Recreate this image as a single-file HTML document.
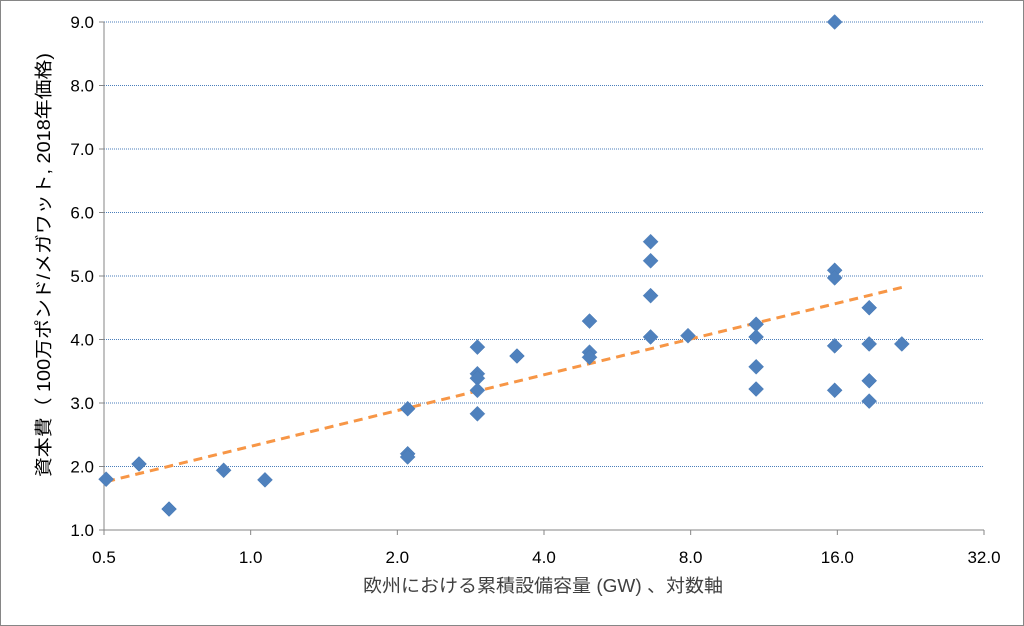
<!DOCTYPE html>
<html><head><meta charset="utf-8"><style>
body{margin:0;background:#fff;}
svg{display:block;font-family:"Liberation Sans","Noto Sans CJK JP",sans-serif;}
</style></head><body>
<svg id="chart" width="1024" height="626" viewBox="0 0 1024 626">
<rect x="0.5" y="0.5" width="1023" height="625" fill="#fff" stroke="#868686"/>
<g id="grid"></g><g id="axes"></g><g id="trend"></g><g id="pts"></g>
<text x="543" y="592" font-size="18" fill="#404040" text-anchor="middle" textLength="360" lengthAdjust="spacingAndGlyphs">欧州における累積設備容量 (GW) 、対数軸</text>
<text transform="translate(50,265) rotate(-90)" font-size="18" fill="#000" text-anchor="middle" textLength="424" lengthAdjust="spacingAndGlyphs">資本費（ 100万ポンド/メガワット, 2018年価格)</text>
</svg>
<script>
const xVals=[0.505,0.59,0.68,0.88,1.07,2.1,2.1,2.1,2.92,2.92,2.92,2.92,2.92,3.52,4.96,4.96,4.96,6.62,6.62,6.62,6.62,7.9,10.9,10.9,10.9,10.9,15.8,15.8,15.8,15.8,15.8,18.6,18.6,18.6,18.6,21.7];
const yVals=[1.80,2.04,1.33,1.94,1.79,2.91,2.20,2.15,3.88,3.46,3.39,3.20,2.83,3.74,4.29,3.80,3.72,5.54,5.24,4.69,4.04,4.06,4.24,4.04,3.57,3.22,9.0,5.09,4.97,3.90,3.20,4.50,3.93,3.35,3.03,3.93];
const xTicks=[0.5,1.0,2.0,4.0,8.0,16.0,32.0];
const yTicks=[1,2,3,4,5,6,7,8,9];
const X0=104,X1=984,Y0=530,Y1=22;
const sx=v=>X0+(Math.log2(v)-Math.log2(0.5))/(Math.log2(32)-Math.log2(0.5))*(X1-X0);
const sy=v=>Y0-(v-1)/(9-1)*(Y0-Y1);
const NS="http://www.w3.org/2000/svg";
function mk(tag,parent,attrs){const e=document.createElementNS(NS,tag);for(const k in attrs)e.setAttribute(k,attrs[k]);document.getElementById(parent).appendChild(e);return e;}
yTicks.forEach(t=>{
  const y=sy(t);
  if(t>1){const l=mk('line','grid',{x1:X0,x2:X1,y1:y,y2:y,stroke:'#4a7ebb','stroke-width':1,'stroke-dasharray':'1 1'});
  
  }
  const tk=mk('line','axes',{x1:X0-5,x2:X0,y1:y,y2:y,stroke:'#868686'});
  
  
  const tx=mk('text','axes',{x:X0-10,y:y+6,'font-size':17,fill:'#000','text-anchor':'end'});
  tx.textContent=t.toFixed(1);
  
  
});
xTicks.forEach(t=>{
  const x=sx(t);
  const tk=mk('line','axes',{x1:x,x2:x,y1:Y0,y2:Y0+5,stroke:'#868686'});
  
  
  const tx=mk('text','axes',{x:x,y:Y0+33,'font-size':17,fill:'#000','text-anchor':'middle'});
  tx.textContent=t.toFixed(1);
  
  
});
const ya=mk('line','axes',{x1:X0,x2:X0,y1:Y1,y2:Y0,stroke:'#868686'});


const xa=mk('line','axes',{x1:X0,x2:X1,y1:Y0,y2:Y0,stroke:'#868686'});


const lx=xVals.map(v=>Math.log(v));const n=lx.length;
const mx=lx.reduce((a,b)=>a+b)/n,my=yVals.reduce((a,b)=>a+b)/n;
let sxy=0,sxx=0;lx.forEach((v,i)=>{sxy+=(v-mx)*(yVals[i]-my);sxx+=(v-mx)*(v-mx);});
const b=sxy/sxx,a=my-b*mx;
const xmin=Math.min(...xVals),xmax=Math.max(...xVals);
const tl=mk('line','trend',{x1:sx(xmin),y1:sy(a+b*Math.log(xmin)),x2:sx(xmax),y2:sy(a+b*Math.log(xmax)),stroke:'#f79646','stroke-width':3,'stroke-dasharray':'9 6'});


xVals.forEach((v,i)=>{
  const cx=sx(v),cy=sy(yVals[i]),r=7.5;
  const p=mk('polygon','pts',{points:`${cx},${cy-r} ${cx+r},${cy} ${cx},${cy+r} ${cx-r},${cy}`,fill:'#4f81bd',stroke:'#4a7ab5','stroke-width':0.5});
  
  
});
</script>
</body></html>
